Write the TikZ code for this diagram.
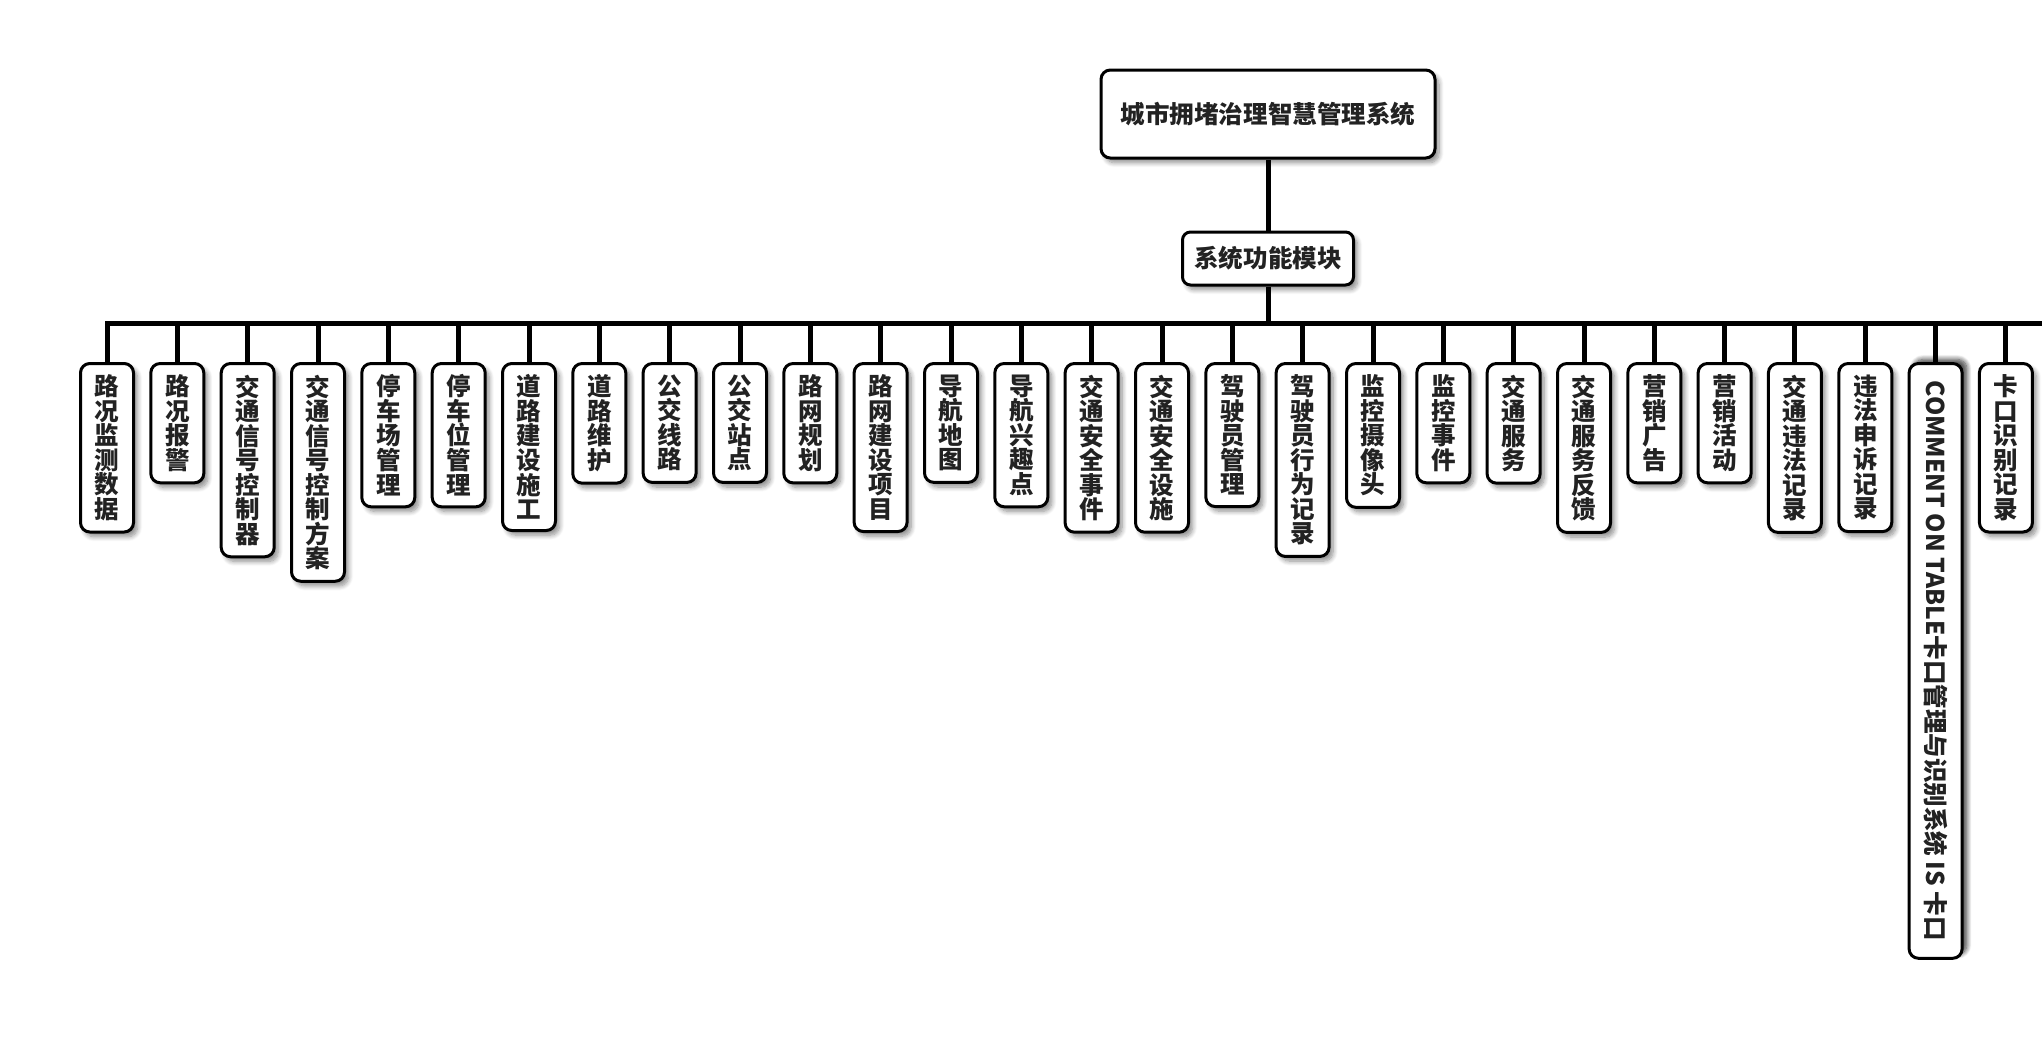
\documentclass[tikz,border=0pt]{standalone}
\usepackage{fontspec}
\setmainfont{Noto Sans CJK SC}
\usetikzlibrary{shadows.blur}
\definecolor{txt}{HTML}{222222}
\tikzset{
  x=0.75pt, y=-0.75pt,
  box/.style={draw=black, line width=2.25pt, rounded corners=7pt, fill=white,
    text=txt, align=center, font=\fontsize{18.4pt}{18.4pt}\selectfont\bfseries,
    blur shadow={shadow xshift=3pt, shadow yshift=-3.5pt, shadow blur steps=8,
      shadow blur radius=3.5pt, shadow opacity=45}},
  leaf/.style={box, anchor=north, minimum width=39.75pt, inner xsep=0pt, inner ysep=8.4pt},
  link/.style={line width=3.75pt, draw=black}
}
\begin{document}
\begin{tikzpicture}
\useasboundingbox (0,0) rectangle (2042,1036);
\node[box, minimum width=250.5pt, minimum height=66pt, inner sep=0pt] (root) at (1268,114) {城市拥堵治理智慧管理系统};
\node[box, minimum width=128.25pt, minimum height=39.75pt, inner sep=0pt, rounded corners=6pt] (mid) at (1268,258.5) {系统功能模块};
\coordinate (busR) at (2042,323);

\node[leaf] (c0) at (107.0,362) {路\\况\\监\\测\\数\\据};
\node[leaf] (c1) at (177.3,362) {路\\况\\报\\警};
\node[leaf] (c2) at (247.7,362) {交\\通\\信\\号\\控\\制\\器};
\node[leaf] (c3) at (318.0,362) {交\\通\\信\\号\\控\\制\\方\\案};
\node[leaf] (c4) at (388.3,362) {停\\车\\场\\管\\理};
\node[leaf] (c5) at (458.7,362) {停\\车\\位\\管\\理};
\node[leaf] (c6) at (529.0,362) {道\\路\\建\\设\\施\\工};
\node[leaf] (c7) at (599.3,362) {道\\路\\维\\护};
\node[leaf] (c8) at (669.6,362) {公\\交\\线\\路};
\node[leaf] (c9) at (740.0,362) {公\\交\\站\\点};
\node[leaf] (c10) at (810.3,362) {路\\网\\规\\划};
\node[leaf] (c11) at (880.6,362) {路\\网\\建\\设\\项\\目};
\node[leaf] (c12) at (951.0,362) {导\\航\\地\\图};
\node[leaf] (c13) at (1021.3,362) {导\\航\\兴\\趣\\点};
\node[leaf] (c14) at (1091.6,362) {交\\通\\安\\全\\事\\件};
\node[leaf] (c15) at (1162.0,362) {交\\通\\安\\全\\设\\施};
\node[leaf] (c16) at (1232.3,362) {驾\\驶\\员\\管\\理};
\node[leaf] (c17) at (1302.6,362) {驾\\驶\\员\\行\\为\\记\\录};
\node[leaf] (c18) at (1373.0,362) {监\\控\\摄\\像\\头};
\node[leaf] (c19) at (1443.3,362) {监\\控\\事\\件};
\node[leaf] (c20) at (1513.6,362) {交\\通\\服\\务};
\node[leaf] (c21) at (1584.0,362) {交\\通\\服\\务\\反\\馈};
\node[leaf] (c22) at (1654.3,362) {营\\销\\广\\告};
\node[leaf] (c23) at (1724.6,362) {营\\销\\活\\动};
\node[leaf] (c24) at (1794.9,362) {交\\通\\违\\法\\记\\录};
\node[leaf] (c25) at (1865.3,362) {违\\法\\申\\诉\\记\\录};
\node[box, rotate=-90, anchor=west, minimum height=39.75pt, inner ysep=0pt, inner xsep=13pt,
  blur shadow={shadow xshift=3.5pt, shadow yshift=3pt, shadow blur steps=8, shadow blur radius=3.5pt, shadow opacity=45}]
  (c26) at (1935.6,362) {COMMENT ON TABLE卡口管理与识别系统 IS 卡口};
\node[leaf] (c27) at (2005.9,362) {卡\\口\\识\\别\\记\\录};

\draw[link] (root.south) -- (mid.north);
\draw[link] (mid.south) -- (mid.south |- busR);
\draw[link] (c0.north) |- (busR);
\foreach \i in {1,...,25,27} {
  \draw[link] (c\i.north) -- (c\i.north |- busR);
}
\draw[link] (c26.west) -- (c26.west |- busR);
\end{tikzpicture}
\end{document}
